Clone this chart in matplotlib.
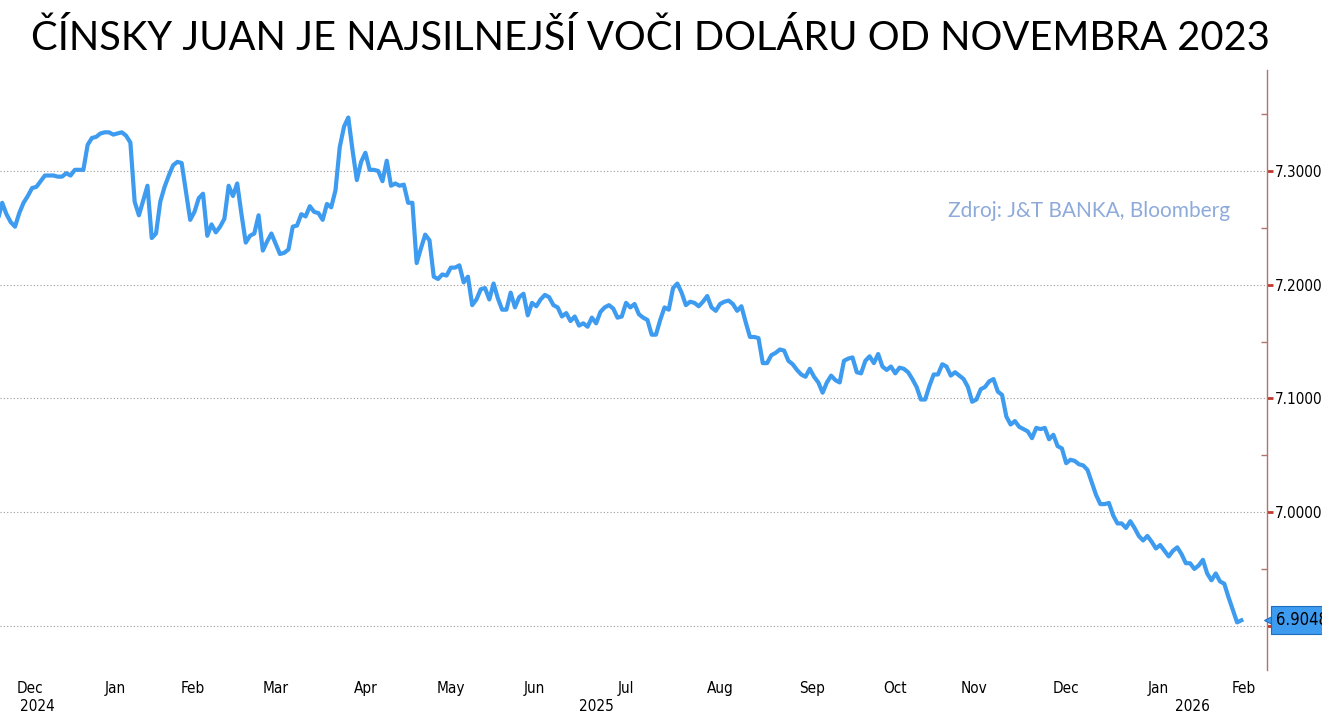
import numpy as np
import pandas as pd
import matplotlib
matplotlib.use("Agg")
import matplotlib.pyplot as plt
import matplotlib.transforms as mtransforms

# ---------------- data ----------------
title = "ČÍNSKY JUAN JE NAJSILNEJŠÍ VOČI DOLÁRU OD NOVEMBRA 2023"
source = "Zdroj: J&T BANKA, Bloomberg"

# onshore CNY trading calendar (weekdays minus mainland holidays)
calendar_start = "2024-12-02"
calendar_end = "2026-02-27"
holidays = ["2025-01-01", "2025-01-28", "2025-01-29", "2025-01-30", "2025-01-31",
            "2025-02-03", "2025-02-04", "2025-04-04", "2025-05-01", "2025-05-02",
            "2025-05-05", "2025-06-02", "2025-10-01", "2025-10-02", "2025-10-03",
            "2025-10-06", "2025-10-07", "2025-10-08", "2026-01-01", "2026-01-02"]
series_start = "2024-12-05"

# USD/CNY daily closes, one value per trading session
usdcny_2024_12 = [7.257, 7.272, 7.262, 7.255, 7.251, 7.263, 7.272, 7.278, 7.285, 7.286,
                  7.291, 7.296, 7.296, 7.296, 7.295, 7.295, 7.298, 7.296, 7.301]
usdcny_2025_01 = [7.301, 7.301, 7.323, 7.329, 7.330, 7.333, 7.334, 7.334, 7.332, 7.333,
                  7.334, 7.331, 7.325, 7.273, 7.261, 7.274, 7.287, 7.241]
usdcny_2025_02 = [7.245, 7.273, 7.286, 7.296, 7.305, 7.308, 7.307, 7.282, 7.257, 7.264,
                  7.276, 7.280, 7.243, 7.253, 7.246, 7.251, 7.258, 7.287]
usdcny_2025_03 = [7.278, 7.289, 7.262, 7.237, 7.243, 7.245, 7.261, 7.230, 7.238, 7.245,
                  7.236, 7.227, 7.228, 7.231, 7.251, 7.252, 7.262, 7.260, 7.269, 7.264,
                  7.263]
usdcny_2025_04 = [7.257, 7.271, 7.268, 7.283, 7.321, 7.339, 7.347, 7.318, 7.292, 7.308,
                  7.316, 7.301, 7.301, 7.300, 7.291, 7.309, 7.287, 7.289, 7.287, 7.288,
                  7.272]
usdcny_2025_05 = [7.272, 7.219, 7.232, 7.244, 7.239, 7.207, 7.205, 7.209, 7.208, 7.215,
                  7.215, 7.217, 7.202, 7.207, 7.182, 7.187, 7.196, 7.197, 7.187]
usdcny_2025_06 = [7.201, 7.188, 7.178, 7.178, 7.193, 7.180, 7.189, 7.192, 7.173, 7.184,
                  7.181, 7.187, 7.191, 7.189, 7.182, 7.180, 7.172, 7.175, 7.168, 7.172]
usdcny_2025_07 = [7.164, 7.166, 7.163, 7.171, 7.166, 7.176, 7.180, 7.182, 7.179, 7.171,
                  7.172, 7.184, 7.180, 7.183, 7.174, 7.171, 7.169, 7.156, 7.156, 7.169,
                  7.180, 7.178, 7.197]
usdcny_2025_08 = [7.201, 7.193, 7.182, 7.185, 7.184, 7.181, 7.185, 7.190, 7.180, 7.177,
                  7.183, 7.185, 7.186, 7.183, 7.177, 7.181, 7.167, 7.154, 7.154, 7.153,
                  7.131]
usdcny_2025_09 = [7.131, 7.138, 7.140, 7.143, 7.142, 7.133, 7.130, 7.125, 7.121, 7.119,
                  7.126, 7.119, 7.114, 7.105, 7.114, 7.120, 7.116, 7.114, 7.133, 7.135,
                  7.136, 7.123]
usdcny_2025_10 = [7.122, 7.133, 7.137, 7.131, 7.139, 7.128, 7.125, 7.128, 7.122, 7.127,
                  7.126, 7.123, 7.117, 7.110, 7.099, 7.099, 7.111]
usdcny_2025_11 = [7.121, 7.121, 7.130, 7.128, 7.120, 7.123, 7.120, 7.117, 7.110, 7.097,
                  7.099, 7.108, 7.110, 7.115, 7.117, 7.106, 7.103, 7.084, 7.077, 7.080]
usdcny_2025_12 = [7.075, 7.073, 7.071, 7.065, 7.074, 7.073, 7.074, 7.064, 7.068, 7.058,
                  7.056, 7.043, 7.046, 7.045, 7.042, 7.041, 7.037, 7.026, 7.015, 7.007,
                  7.007, 7.008, 6.997]
usdcny_2026_01 = [6.990, 6.990, 6.986, 6.992, 6.986, 6.979, 6.975, 6.979, 6.974, 6.968,
                  6.971, 6.966, 6.961, 6.966, 6.969, 6.963, 6.955, 6.955, 6.950, 6.953]
usdcny_2026_02 = [6.958, 6.946, 6.940, 6.946, 6.939, 6.937, 6.925, 6.914, 6.903, 6.9048]

y_ticks = [6.9, 7.0, 7.1, 7.2, 7.3]
y_minor_ticks = [6.95, 7.05, 7.15, 7.25, 7.35]

# ---------------- build series ----------------
sessions = pd.bdate_range(calendar_start, calendar_end)
sessions = sessions[~sessions.isin(pd.to_datetime(holidays))]
pos = np.arange(len(sessions))

values = np.array(usdcny_2024_12 + usdcny_2025_01 + usdcny_2025_02 + usdcny_2025_03 +
                  usdcny_2025_04 + usdcny_2025_05 + usdcny_2025_06 + usdcny_2025_07 +
                  usdcny_2025_08 + usdcny_2025_09 + usdcny_2025_10 + usdcny_2025_11 +
                  usdcny_2025_12 + usdcny_2026_01 + usdcny_2026_02)
start_idx = int(np.searchsorted(sessions, pd.Timestamp(series_start)))
x = pos[start_idx:start_idx + len(values)]

# ---------------- style ----------------
LINE = "#3d9bf0"
AXIS = "#b2726e"
TICKFONT = dict(family=["DejaVu Sans"], stretch="condensed", size=11)

fig = plt.figure(figsize=(13.22, 7.17), dpi=100)
W, H = 1322, 717
ax = fig.add_axes([0, (H - 670) / H, 1267 / W, 600 / H])

ax.plot(x, values, color=LINE, lw=3.0, solid_joinstyle="round", zorder=3)

x0, x1 = 3.49, 300.0
ax.set_xlim(x0, x1)
ax.set_ylim(6.8611, 7.3888)

for s in ["left", "top", "bottom"]:
    ax.spines[s].set_visible(False)
ax.spines["right"].set_color(AXIS)
ax.spines["right"].set_linewidth(1.0)

ax.yaxis.tick_right()
ax.set_yticks(y_ticks)
ax.set_yticklabels([f"{v:.4f}" for v in y_ticks], fontdict=TICKFONT)
ax.set_yticks(y_minor_ticks, minor=True)
ax.tick_params(axis="y", which="major", direction="out", length=4, width=2,
               color="#c0392b", pad=2)
ax.tick_params(axis="y", which="minor", direction="in", length=4, width=1, color=AXIS)
ax.grid(axis="y", which="major", linestyle=(0, (1, 2)), color="#9a9a9a", lw=0.8)

# month ticks at the centre of each month's trading sessions
cal = pd.DataFrame({"pos": pos, "y": sessions.year, "m": sessions.month,
                    "lab": sessions.strftime("%b")})
months = cal.groupby(["y", "m"]).agg(pos=("pos", "mean"), lab=("lab", "first")).reset_index()
months = months[(months.pos >= x0) & (months.pos <= x1)]
ax.set_xticks(months.pos.values)
ax.set_xticklabels(months.lab.values, fontdict=TICKFONT)
ax.tick_params(axis="x", length=0, pad=8)

# year labels centred on the visible part of each year
for yr, grp in cal.groupby("y"):
    lo = max(grp.pos.min(), x0)
    hi = min(grp.pos.max(), x1)
    if hi < lo:
        continue
    ax.annotate(str(yr), xy=((lo + hi) / 2, 0), xycoords=("data", "axes fraction"),
                xytext=(0, -29), textcoords="offset pixels", ha="center", va="top",
                **TICKFONT, annotation_clip=False)

# last value tag
last = values[-1]
tri_tr = ax.get_yaxis_transform() + mtransforms.ScaledTranslation(7 / 100, 0, fig.dpi_scale_trans)
ax.plot([1], [last], marker="<", ms=15, color=LINE, mec="#1f6fbf", mew=0.8,
        transform=tri_tr, clip_on=False, zorder=9)
ax.annotate(f"{last:.4f}", xy=(1, last), xycoords=("axes fraction", "data"),
            xytext=(9, 0), textcoords="offset pixels", ha="left", va="center",
            family=["DejaVu Sans"], stretch="condensed", size=12,
            color="black", zorder=10, annotation_clip=False,
            bbox=dict(boxstyle="square,pad=0.3", fc=LINE, ec="#1f6fbf", lw=0.8))

# texts
fig.text(650 / W, 1 - 38 / H, title, ha="center", va="center",
         family=["Lato", "DejaVu Sans"], fontsize=28.7, color="black")
fig.text(1230 / W, 1 - 211 / H, source, ha="right", va="center",
         family=["Lato", "DejaVu Sans"], fontsize=15, color="#8eaadb")

fig.savefig("out.png", dpi=100)
